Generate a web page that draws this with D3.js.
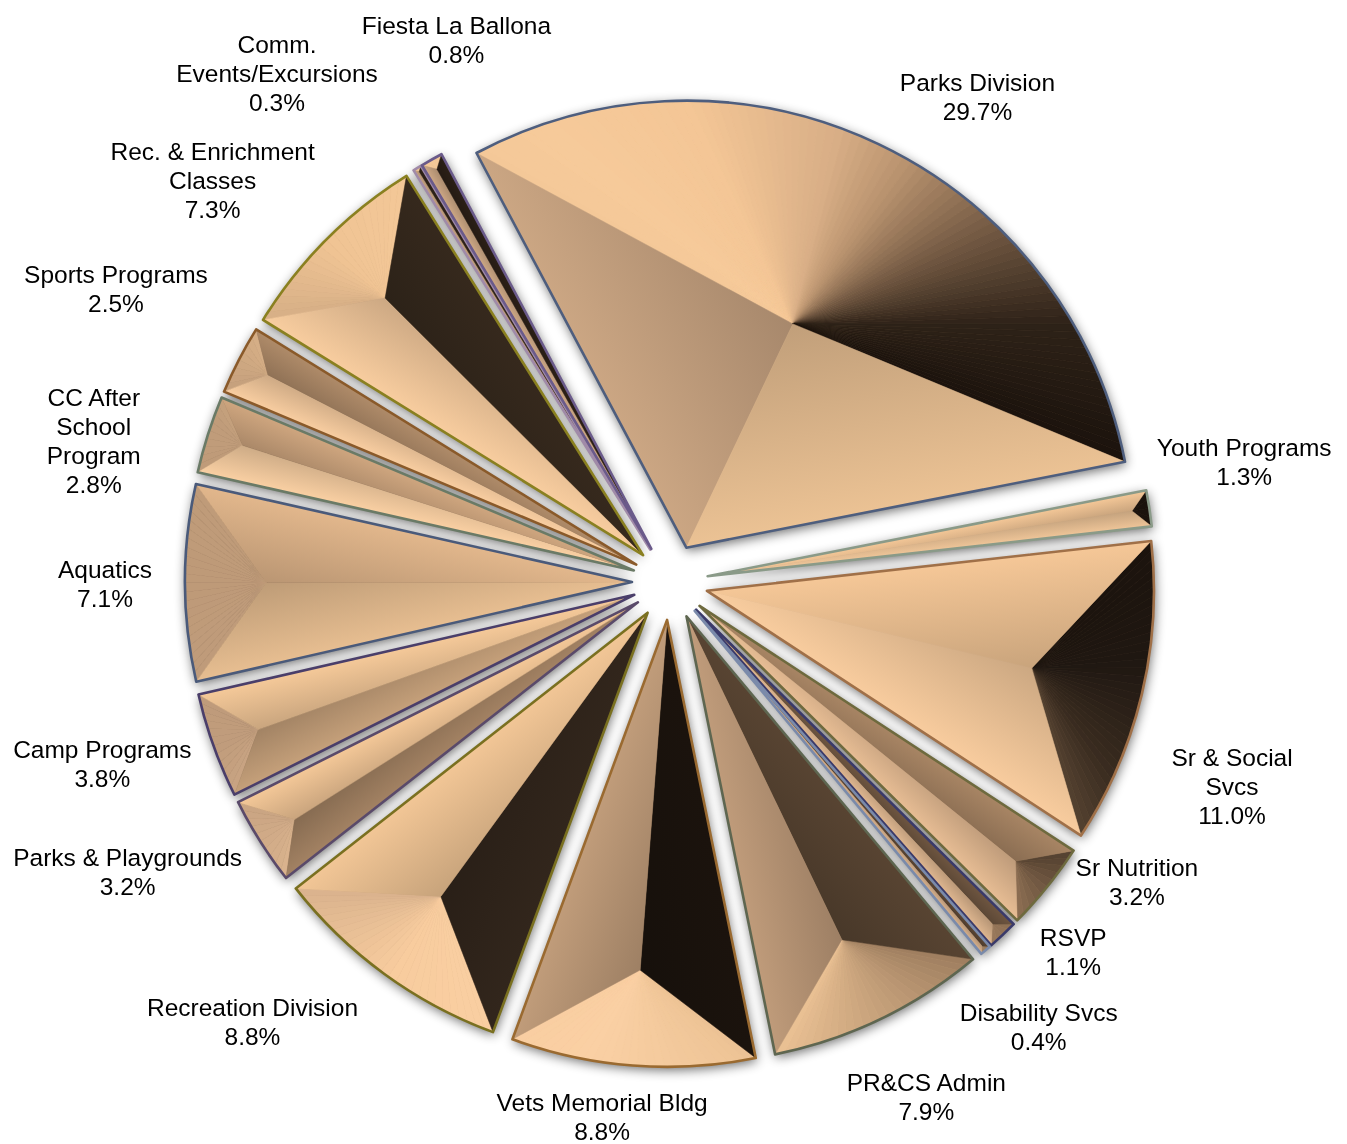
<!DOCTYPE html>
<html>
<head>
<meta charset="utf-8">
<script src="https://cdn.jsdelivr.net/npm/d3@7"></script>
<style>
  body { margin: 0; background: #fff; }
  svg { display: block; }
  text { font-family: "Liberation Sans", Arial, sans-serif; font-size: 24.5px; fill: #000; }
</style>
</head>
<body>
<svg id="chart" width="1347" height="1144"></svg>
<script>
// data
var categories = [
  "Parks Division", "Youth Programs", "Sr & Social\nSvcs", "Sr Nutrition", "RSVP",
  "Disability Svcs", "PR&CS Admin", "Vets Memorial Bldg", "Recreation Division",
  "Parks & Playgrounds", "Camp Programs", "Aquatics", "CC After\nSchool\nProgram",
  "Sports Programs", "Rec. & Enrichment\nClasses", "Comm.\nEvents/Excursions", "Fiesta La Ballona"
];
var values = [29.7, 1.3, 11.0, 3.2, 1.1, 0.4, 7.9, 8.8, 8.8, 3.2, 3.8, 7.1, 2.8, 2.5, 7.3, 0.3, 0.8];

// styling
var outlineColors = [
  "#4e5e7e", "#8a9a88", "#a07048", "#6e6a3e", "#3a3a6a", "#7a8aaa", "#5e6650", "#9a6a30",
  "#7a7020", "#5a4a6a", "#4a3e6a", "#4a5a7a", "#6a7a66", "#8a5a2a", "#8a8020", "#a08aa8", "#6a5a8a"
];
// label nudges (px) from the default spot on the slice bisector
var labelNudge = [
  [56, 43], [-4, -32], [-7, 68], [12, -68], [2, -56], [-12, 0], [3, -13], [-23, -49], [-73, -33],
  [-48, -23], [-17, -16], [20, 0], [-19, 37], [-34, -26], [-43, 11], [-88, -10], [74, -33]
];
// facet shade by the direction the facet faces (deg, clockwise from up)
var shadeStops  = [0, 20, 30, 45, 60, 80, 100, 115, 125, 135, 150, 170, 190, 215, 235, 250, 270, 290, 315, 340, 360];
var shadeColors = ["#f4c696", "#d8ae86", "#b8926e", "#6e5540", "#2e2218", "#1a120c", "#201812", "#3a2c20",
  "#5a4634", "#8e7054", "#bc9874", "#eec496", "#fad0a4", "#f8cc9e", "#d4ae8a", "#c09c7c", "#be9a78",
  "#c09c7a", "#f0c494", "#f6ca9a", "#f4c696"];

var width = 1347, height = 1144;
var cx = 670, cy = 582, R = 447, explode = 38;
var deg = Math.PI / 180;

var svg = d3.select("#chart");
svg.append("rect").attr("width", width).attr("height", height).attr("fill", "#fff");
var defs = svg.append("defs");

var f = defs.append("filter").attr("id", "shadow")
  .attr("filterUnits", "userSpaceOnUse")
  .attr("x", 0).attr("y", 0).attr("width", width).attr("height", height);
f.append("feGaussianBlur").attr("in", "SourceAlpha").attr("stdDeviation", 6);
f.append("feOffset").attr("dx", 1).attr("dy", 3).attr("result", "b");
f.append("feComponentTransfer").append("feFuncA").attr("type", "linear").attr("slope", 0.6);

var pie = d3.pie().sort(null).value(function (d) { return d; })
  .startAngle(-28 * deg).endAngle(332 * deg);
var arcs = pie(values);
var arcPath = d3.arc().innerRadius(0).outerRadius(R);

var shade = d3.scaleLinear().domain(shadeStops).range(shadeColors).interpolate(d3.interpolateRgb);
function shadeAt(a) {
  var t = (a / deg) % 360;
  if (t < 0) t += 360;
  return shade(t);
}
function pt(r, a) { return [r * Math.sin(a), -r * Math.cos(a)]; }
function mid(d) { return (d.startAngle + d.endAngle) / 2; }
function offset(d) { return pt(explode, mid(d)); }
var poly = d3.line();

// shadows under everything
var shadowG = svg.append("g").attr("filter", "url(#shadow)");
shadowG.selectAll("path").data(arcs).enter().append("path")
  .attr("transform", function (d) { var o = offset(d); return "translate(" + (cx + o[0]) + "," + (cy + o[1]) + ")"; })
  .attr("d", arcPath)
  .attr("fill", "#000");

var slices = svg.append("g").selectAll("g").data(arcs).enter().append("g")
  .attr("transform", function (d) { var o = offset(d); return "translate(" + (cx + o[0]) + "," + (cy + o[1]) + ")"; });

slices.each(function (d, i) {
  var g = d3.select(this);
  var a0 = d.startAngle, a1 = d.endAngle, m = mid(d);
  var half = (a1 - a0) / 2;
  var V = pt(R / (1 + Math.sin(half)), m);
  var C1 = pt(R, a0), C2 = pt(R, a1);

  // base fill so no seams show through
  g.append("path").attr("d", arcPath(d)).attr("fill", shadeAt(m + Math.PI));

  // outer (arc) facet, split in thin wedges so the shade follows the curve
  var n = Math.max(2, Math.ceil((a1 - a0) / (1.2 * deg)));
  for (var k = 0; k < n; k++) {
    var t0 = a0 + (a1 - a0) * k / n, t1 = a0 + (a1 - a0) * (k + 1) / n;
    var c = shadeAt((t0 + t1) / 2);
    g.append("path")
      .attr("d", poly([V, pt(R, t0), pt(R, t1)]) + "Z")
      .attr("fill", c).attr("stroke", c).attr("stroke-width", 0.7).attr("stroke-linejoin", "round");
  }

  // side facets along the two radial edges
  [[C1, a0 - 90 * deg], [C2, a1 + 90 * deg]].forEach(function (e, j) {
    var C = e[0], base = shadeAt(e[1]);
    var len = Math.sqrt(C[0] * C[0] + C[1] * C[1]);
    var u = [C[0] / len, C[1] / len];
    var p = V[0] * u[0] + V[1] * u[1];
    var foot = [u[0] * p, u[1] * p];
    var id = "gr" + i + "_" + j;
    var lg = defs.append("linearGradient").attr("id", id).attr("gradientUnits", "userSpaceOnUse")
      .attr("x1", foot[0]).attr("y1", foot[1]).attr("x2", V[0]).attr("y2", V[1]);
    lg.append("stop").attr("offset", 0).attr("stop-color", base);
    lg.append("stop").attr("offset", 1).attr("stop-color", d3.color(base).darker(0.55).formatHex());
    g.append("path")
      .attr("d", poly([[0, 0], C, V]) + "Z")
      .attr("fill", "url(#" + id + ")")
      .attr("stroke", "url(#" + id + ")").attr("stroke-width", 0.5);
  });

  g.append("path").attr("d", arcPath(d))
    .attr("fill", "none")
    .attr("stroke", outlineColors[i])
    .attr("stroke-width", 2.6)
    .attr("stroke-linejoin", "round");
});

// labels
var labels = svg.append("g").selectAll("text").data(arcs).enter().append("text")
  .attr("text-anchor", "middle");
labels.each(function (d, i) {
  var m = mid(d);
  var lx = cx + 585 * Math.sin(m) + labelNudge[i][0];
  var ly = cy - 585 * Math.cos(m) + labelNudge[i][1];
  var lines = categories[i].split("\n").concat([values[i].toFixed(1) + "%"]);
  var top = ly - (lines.length - 1) * 29 / 2;
  var t = d3.select(this);
  lines.forEach(function (s, k) {
    t.append("tspan").attr("x", lx).attr("y", top + k * 29 + 9).text(s);
  });
});
</script>
</body>
</html>
